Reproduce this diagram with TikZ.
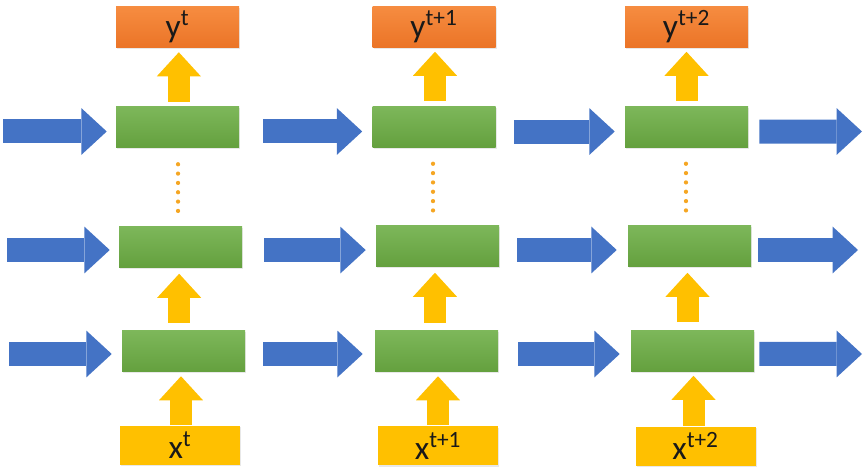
\documentclass[tikz,border=0pt]{standalone}
\usepackage{fontspec}
\setmainfont{Carlito}
\usetikzlibrary{arrows.meta,shadows}
\definecolor{gtop}{HTML}{7DB75A}
\definecolor{gbot}{HTML}{64A03E}
\definecolor{otop}{HTML}{F68C40}
\definecolor{obot}{HTML}{EB7427}
\definecolor{oyel}{HTML}{FFC000}
\definecolor{oblue}{HTML}{4473C5}
\definecolor{odot}{HTML}{F5A623}
\begin{document}
\begin{tikzpicture}[x=0.75pt,y=-0.75pt,
  box/.style={rectangle, inner sep=0pt, minimum width=92.25pt, minimum height=30.75pt,
    drop shadow={opacity=0.18, shadow xshift=0.8pt, shadow yshift=-0.8pt}},
  cell/.style={box, top color=gtop, bottom color=gbot},
  outbox/.style={box, top color=otop, bottom color=obot,
    font=\fontsize{25}{25}\selectfont, text=black!90, text height=18pt, text depth=2.25pt},
  inbox/.style={box, fill=oyel, minimum width=90pt, minimum height=29.25pt,
    font=\fontsize{25}{25}\selectfont, text=black!90, text height=20pt, text depth=0pt},
  harrow/.style={draw=oblue, line width=18pt,
    -{Triangle[length=19pt 0 0, width=35pt 0 0, line width=0pt]}},
  varrow/.style={draw=oyel, line width=16.5pt,
    -{Triangle[length=18pt 0 0, width=33pt 0 0, line width=0pt]}},
  dots/.style={draw=odot, line width=3.2pt, line cap=round,
    dash pattern=on 0pt off 7pt, shorten <=12pt, shorten >=11pt}
]
\useasboundingbox (0,0) rectangle (865,473);

% output boxes
\node[outbox] (y1) at (177.5,27.5) {y\textsuperscript{t}};
\node[outbox] (y2) at (434,27) {y\textsuperscript{t+1}};
\node[outbox] (y3) at (686.5,27) {y\textsuperscript{t+2}};

% cells
\node[cell] (g11) at (177.5,127.5) {};
\node[cell] (g12) at (434,127) {};
\node[cell] (g13) at (686.5,127) {};
\node[cell] (g21) at (180.5,247) {};
\node[cell] (g22) at (437.5,246) {};
\node[cell] (g23) at (689.5,246) {};
\node[cell] (g31) at (183.5,351.5) {};
\node[cell] (g32) at (436.5,351.5) {};
\node[cell] (g33) at (692.5,351) {};

% input boxes
\node[inbox] (x1) at (180,445.5) {x\textsuperscript{t}};
\node[inbox] (x2) at (438,446) {x\textsuperscript{t+1}};
\node[inbox] (x3) at (695.5,446.5) {x\textsuperscript{t+2}};

% free ends of horizontal arrows
\coordinate (s1) at (3,131.5);
\coordinate (s2) at (7,250);
\coordinate (s3) at (9,354);
\coordinate (e1) at (862,131.5);
\coordinate (e2) at (858,250);
\coordinate (e3) at (862,354);

% row 1
\draw[harrow, shorten >=6.75pt] (s1) -- (s1 -| g11.west);
\draw[harrow, shorten <=18pt, shorten >=7.5pt] ([yshift=-3pt]g11.east) -- ([yshift=-3pt]g11.east -| g12.west);
\draw[harrow, shorten <=13.5pt, shorten >=7.5pt] ([yshift=-3.4pt]g12.east) -- ([yshift=-3.4pt]g12.east -| g13.west);
\draw[harrow, shorten <=8.25pt] ([yshift=-3.4pt]g13.east) -- (e1);
% row 2
\draw[harrow, shorten >=6.75pt] (s2) -- (s2 -| g21.west);
\draw[harrow, shorten <=16.5pt, shorten >=7.5pt] ([yshift=-2.3pt]g21.east) -- ([yshift=-2.3pt]g21.east -| g22.west);
\draw[harrow, shorten <=13.5pt, shorten >=8.25pt] ([yshift=-3pt]g22.east) -- ([yshift=-3pt]g22.east -| g23.west);
\draw[harrow, shorten <=5.25pt] ([yshift=-3pt]g23.east) -- (e2);
% row 3
\draw[harrow, shorten >=7.5pt] (s3) -- (s3 -| g31.west);
\draw[harrow, shorten <=13.5pt, shorten >=9pt] ([yshift=-1.9pt]g31.east) -- ([yshift=-1.9pt]g31.east -| g32.west);
\draw[harrow, shorten <=15pt, shorten >=8.25pt] ([yshift=-1.9pt]g32.east) -- ([yshift=-1.9pt]g32.east -| g33.west);
\draw[harrow, shorten <=3.75pt] ([yshift=-2.2pt]g33.east) -- (e3);

% vertical arrows: cell -> output
\draw[varrow, shorten <=3.75pt, shorten >=3pt] ([xshift=1pt]g11.north) -- ([xshift=1pt]g11.north |- y1.south);
\draw[varrow, shorten <=3.75pt, shorten >=3pt] ([xshift=0.75pt]g12.north) -- ([xshift=0.75pt]g12.north |- y2.south);
\draw[varrow, shorten <=3.75pt, shorten >=3pt] (g13.north) -- (g13.north |- y3.south);
% lower cell -> middle cell
\draw[varrow, shorten <=6pt, shorten >=4.5pt] ([xshift=-1pt]g21.south |- g31.north) -- ([xshift=-1pt]g21.south);
\draw[varrow, shorten <=6pt, shorten >=4.5pt] ([xshift=-1.9pt]g22.south |- g32.north) -- ([xshift=-1.9pt]g22.south);
\draw[varrow, shorten <=6pt, shorten >=4.5pt] ([xshift=-1.5pt]g23.south |- g33.north) -- ([xshift=-1.5pt]g23.south);
% input -> lower cell
\draw[varrow, shorten <=0.75pt, shorten >=3pt] ([xshift=0.75pt]x1.north) -- ([xshift=0.75pt]x1.north |- g31.south);
\draw[varrow, shorten <=0.75pt, shorten >=3pt] (x2.north) -- (x2.north |- g32.south);
\draw[varrow, shorten <=0.75pt, shorten >=3pt] ([xshift=-1.5pt]x3.north) -- ([xshift=-1.5pt]x3.north |- g33.south);

% dotted continuation between layers
\draw[dots] ([xshift=0.4pt]g11.south) -- ([xshift=0.4pt]g11.south |- g21.north);
\draw[dots] ([xshift=-0.75pt]g12.south) -- ([xshift=-0.75pt]g12.south |- g22.north);
\draw[dots] ([xshift=-0.4pt]g13.south) -- ([xshift=-0.4pt]g13.south |- g23.north);
\end{tikzpicture}
\end{document}
